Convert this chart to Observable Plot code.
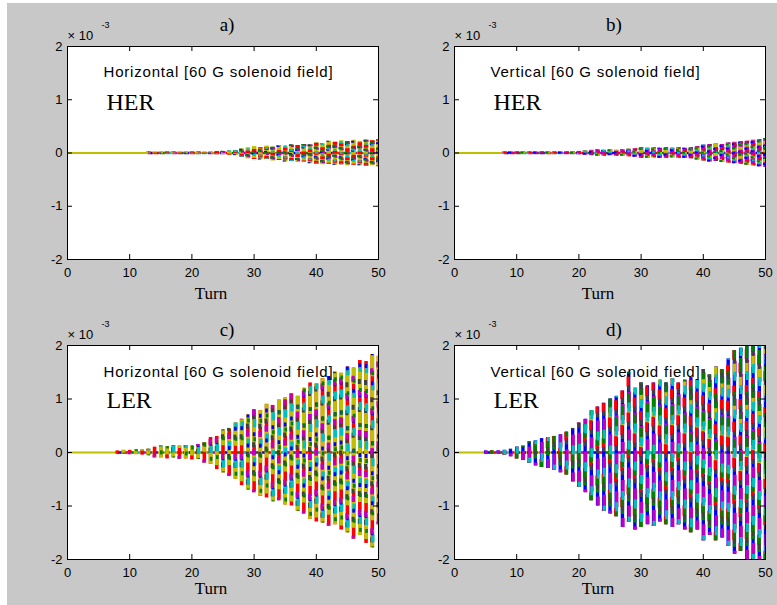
<!DOCTYPE html>
<html><head><meta charset="utf-8">
<script src="https://cdn.jsdelivr.net/npm/d3@7"></script>
<script src="https://cdn.jsdelivr.net/npm/@observablehq/plot@0.6"></script>
<style>
body{margin:0;background:#fff;}
#page{position:relative;width:777px;height:605px;overflow:hidden;}
#bg{position:absolute;left:7px;top:3px;width:770px;height:602px;background:#c8c8c8;}
.panel{position:absolute;width:390px;height:300px;}
</style></head><body><div id="page"><div id="bg"></div></div>
<script>
// ---------- data (values in units of 1e-3) ----------
const turns = [0,1,2,3,4,5,6,7,8,9,10,11,12,13,14,15,16,17,18,19,20,21,22,23,24,25,26,27,28,29,30,31,32,33,34,35,36,37,38,39,40,41,42,43,44,45,46,47,48,49,50];
const xTicks = [0,10,20,30,40,50];
const yTicks = [-2,-1,0,1,2];
const yTickLabels = ["-2","-1","0","1","2"];
const panelTitles = ["a)","b)","c)","d)"];
const planeLabels = ["Horizontal [60 G solenoid field]","Vertical [60 G solenoid field]","Horizontal [60 G solenoid field]","Vertical [60 G solenoid field]"];
const ringLabels = ["HER","HER","LER","LER"];
const axisLabel = "Turn";
const startTurns = [13, 8, 8, 5];

const aHigh = [0,0,0,0,0,0,0,0,0,0,0,0,0,.02,.02,.02,.02,.02,.02,.02,.02,.02,.02,.02,.03,.03,.04,.05,.08,.10,.12,.10,.13,.11,.14,.13,.15,.14,.16,.15,.19,.17,.22,.20,.23,.21,.24,.22,.24,.23,.25];
const aLow  = [0,0,0,0,0,0,0,0,0,0,0,0,0,-.02,-.02,-.02,-.02,-.02,-.02,-.02,-.02,-.02,-.02,-.02,-.03,-.03,-.04,-.05,-.08,-.11,-.12,-.13,-.12,-.15,-.14,-.17,-.16,-.18,-.17,-.20,-.21,-.22,-.21,-.23,-.22,-.24,-.23,-.24,-.25,-.24,-.26];
const bHigh = [0,0,0,0,0,0,0,0,.02,.02,.02,.02,.02,.02,.02,.02,.02,.02,.02,.02,.03,.04,.05,.06,.05,.06,.05,.06,.07,.08,.10,.09,.10,.09,.10,.09,.10,.09,.10,.12,.15,.16,.17,.16,.19,.20,.21,.22,.24,.25,.27];
const bLow  = [0,0,0,0,0,0,0,0,-.02,-.02,-.02,-.02,-.02,-.02,-.02,-.02,-.02,-.02,-.02,-.02,-.03,-.04,-.05,-.06,-.06,-.05,-.06,-.06,-.07,-.08,-.10,-.10,-.09,-.10,-.10,-.09,-.10,-.10,-.11,-.13,-.15,-.17,-.16,-.18,-.19,-.20,-.21,-.23,-.24,-.26,-.27];
const cHigh = [0,0,0,0,0,0,0,0,.03,.04,.04,.05,.05,.06,.10,.12,.11,.13,.12,.13,.12,.15,.18,.28,.30,.42,.45,.55,.62,.70,.80,.78,.90,.88,.98,1.02,1.10,1.05,1.20,1.30,1.28,1.38,1.42,1.50,1.48,1.60,1.58,1.72,1.70,1.83,1.80];
const cLow  = [0,0,0,0,0,0,0,0,-.03,-.03,-.04,-.04,-.05,-.06,-.10,-.10,-.12,-.10,-.13,-.12,-.14,-.13,-.20,-.22,-.32,-.38,-.45,-.50,-.62,-.70,-.75,-.82,-.85,-.92,-.90,-.98,-1.00,-1.10,-1.15,-1.25,-1.30,-1.32,-1.38,-1.35,-1.45,-1.50,-1.62,-1.55,-1.70,-1.78,-1.35];
const dHigh = [0,0,0,0,0,.03,.03,.03,.04,.06,.10,.12,.20,.22,.26,.28,.30,.33,.38,.45,.55,.62,.78,.85,.92,1.00,1.05,1.15,1.50,1.20,1.30,1.25,1.30,1.35,1.30,1.38,1.30,1.35,1.40,1.35,1.55,1.45,1.60,1.55,1.75,1.90,1.95,2,2,2,2];
const dLow  = [0,0,0,0,0,-.03,-.03,-.03,-.05,-.08,-.12,-.15,-.20,-.25,-.28,-.30,-.33,-.38,-.42,-.55,-.65,-.75,-.90,-1.00,-1.10,-1.15,-1.20,-1.40,-1.30,-1.45,-1.40,-1.35,-1.38,-1.30,-1.35,-1.40,-1.35,-1.45,-1.50,-1.45,-1.65,-1.55,-1.65,-1.60,-1.75,-1.90,-1.85,-2,-2,-2,-2];

const highs = [aHigh, bHigh, cHigh, dHigh];
const lows = [aLow, bLow, cLow, dLow];

// ---------- styles ----------
const C = {b:"#0000ff", g:"#008000", r:"#ff0000", c:"#00bfbf", m:"#bf00bf", y:"#bfbf00", k:"#404040"};
const layerSets = [
  [{s:C.y,w:4.5,da:null,o:0,dx:0},{s:C.r,w:4.5,da:"3 6",o:0,dx:0},{s:C.b,w:3,da:"2 7",o:3,dx:-1},{s:C.m,w:3,da:"2 8",o:6,dx:1},{s:C.c,w:3,da:"2 9",o:1,dx:0},{s:C.g,w:3,da:"2 8",o:5,dx:-1},{s:C.k,w:2,da:"1 9",o:4,dx:1}],
  [{s:C.m,w:4.5,da:null,o:0,dx:0},{s:C.y,w:4.5,da:"3 6",o:2,dx:0},{s:C.b,w:3,da:"2 7",o:5,dx:-1},{s:C.r,w:3,da:"2 8",o:0,dx:1},{s:C.c,w:3,da:"2 9",o:7,dx:0},{s:C.g,w:3,da:"2 8",o:3,dx:-1},{s:C.k,w:2,da:"1 9",o:1,dx:1}],
  [{s:C.r,w:3.6,da:null,o:0,dx:0},{s:C.y,w:3.8,da:"26 10",o:32,dx:0},{s:C.k,w:3,da:"5 23",o:10,dx:-0.5},{s:C.c,w:3.4,da:"8 30",o:20,dx:0.5},{s:C.b,w:2.6,da:"4 26",o:5,dx:0},{s:C.m,w:3,da:"6 34",o:14,dx:-0.5},{s:C.g,w:2.6,da:"4 31",o:25,dx:0.5}],
  [{s:C.b,w:3.4,da:null,o:0,dx:0},{s:C.m,w:3.4,da:"16 22",o:0,dx:0.5},{s:C.y,w:3.4,da:"12 30",o:18,dx:0},{s:C.r,w:3.2,da:"10 26",o:9,dx:-0.5},{s:C.g,w:3.2,da:"14 33",o:27,dx:0},{s:C.c,w:3,da:"9 29",o:4,dx:0.5},{s:C.k,w:2.8,da:"5 31",o:13,dx:0}]
];
const phaseShift = [0, 13, 29, 7];   // dash phase per group of turns (breaks banding)
const zeroDash = [C.b,C.r,C.g,C.c,C.m,C.k];

const panels = [
  {left:0,   top:0,   mt:46, titleDy:-16, turnDy:39},
  {left:387, top:0,   mt:46, titleDy:-16, turnDy:39},
  {left:0,   top:300, mt:45, titleDy:-10, turnDy:34},
  {left:387, top:300, mt:45, titleDy:-10, turnDy:34}
];

const page = document.getElementById("page");
const W = 390, H = 300, ML = 67, MR = 12, MB = 41;

panels.forEach((p, i) => {
  const rows = turns.map((t, j) => ({turn: t, lo: lows[i][j], hi: highs[i][j]})).filter(d => d.hi !== d.lo);
  const fw = W - ML - MR, fh = H - p.mt - MB, tl = 5;
  const barMarks = [];
  layerSets[i].forEach(L => {
    phaseShift.forEach((ps, g) => {
      barMarks.push(Plot.ruleX(rows.filter(d => d.turn % phaseShift.length === g), {
        x: "turn", y1: "lo", y2: "hi", stroke: L.s, strokeWidth: L.w,
        strokeDasharray: L.da ?? undefined, strokeDashoffset: L.o + ps, dx: L.dx, clip: true
      }));
    });
  });
  const marks = [
    Plot.frame({fill: "white", stroke: null}),
    Plot.ruleY([0], {x1: 0, x2: 50, stroke: C.y, strokeWidth: 2}),
    ...zeroDash.map((c, k) => Plot.ruleY([0], {x1: startTurns[i], x2: 50, stroke: c, strokeWidth: 2.5, strokeDasharray: "5 31", strokeDashoffset: -k * 6})),
    ...barMarks,
    Plot.frame({stroke: "black", strokeWidth: 1}),
    Plot.tickX(xTicks, {x: d => d, insetTop: fh - tl, stroke: "black"}),
    Plot.tickX(xTicks, {x: d => d, insetBottom: fh - tl, stroke: "black"}),
    Plot.tickY(yTicks, {y: d => d, insetRight: fw - tl, stroke: "black"}),
    Plot.tickY(yTicks, {y: d => d, insetLeft: fw - tl, stroke: "black"}),
    Plot.axisX({anchor: "bottom", ticks: xTicks, tickSize: 0, tickPadding: 8, tickFormat: d => String(d), label: null, fontSize: 13}),
    Plot.axisY({anchor: "left", ticks: yTicks, tickSize: 0, tickPadding: 5, tickFormat: d => yTickLabels[yTicks.indexOf(d)], label: null, fontSize: 13}),
    Plot.text([planeLabels[i]], {frameAnchor: "top-left", dx: 36, dy: i < 2 ? 30 : 31, textAnchor: "start", lineAnchor: "bottom", fontSize: 15, fontFamily: "Liberation Sans"}),
    Plot.text([ringLabels[i]], {frameAnchor: "top-left", dx: 39, dy: i < 2 ? 63 : 62, textAnchor: "start", lineAnchor: "bottom", fontSize: 24, fontFamily: "Liberation Serif"}),
    Plot.text([panelTitles[i]], {frameAnchor: "top", dx: 4, dy: p.titleDy, lineAnchor: "bottom", fontSize: 19, fontFamily: "Liberation Serif"}),
    Plot.text(["× 10"], {frameAnchor: "top-left", dx: 0, dy: -7, textAnchor: "start", lineAnchor: "bottom", fontSize: 13, fontFamily: "Liberation Sans"}),
    Plot.text(["-3"], {frameAnchor: "top-left", dx: 34, dy: -19, textAnchor: "start", lineAnchor: "bottom", fontSize: 9, fontFamily: "Liberation Sans"}),
    Plot.text([axisLabel], {frameAnchor: "bottom", dx: -12, dy: p.turnDy, lineAnchor: "bottom", fontSize: 17, fontFamily: "Liberation Serif"})
  ];
  const chart = Plot.plot({
    width: W, height: H,
    marginLeft: ML, marginRight: MR, marginTop: p.mt, marginBottom: MB,
    x: {domain: [0, 50], label: null},
    y: {domain: [-2, 2], label: null},
    style: {background: "transparent", fontFamily: "Liberation Sans", fontSize: "13px", color: "black", overflow: "visible"},
    marks
  });
  // widen the spacing of the in-plot annotation like the original rendering
  d3.select(chart).selectAll("text")
    .filter(function () { return planeLabels.includes(this.textContent); })
    .attr("letter-spacing", "0.8px");
  const div = document.createElement("div");
  div.className = "panel";
  div.style.left = p.left + "px";
  div.style.top = p.top + "px";
  div.appendChild(chart);
  page.appendChild(div);
});
</script></body></html>
